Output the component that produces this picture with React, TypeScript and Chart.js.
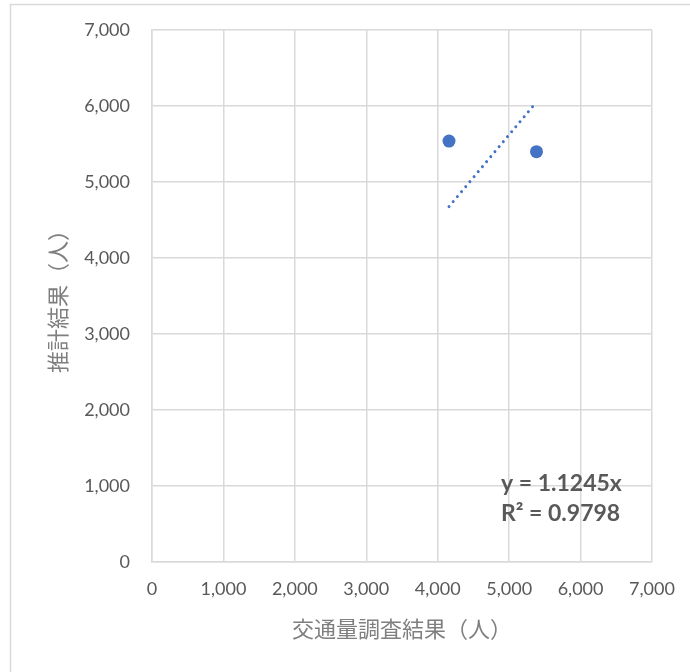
import React, { useEffect, useRef } from "react";
import { Chart, registerables } from "chart.js";

Chart.register(...registerables);

const observedX = [4158, 5383];
const estimatedY = [5539, 5399];
const slope = 1.1245;
const rSquared = "0.9798";
const axisTicks = [0, 1000, 2000, 3000, 4000, 5000, 6000, 7000];
const xTitle = "交通量調査結果（人）";
const yTitle = "推計結果（人）";

const trendX = [observedX[0], observedX[1]];
const trendY = trendX.map((x) => x * slope);

const latin = "Lato, 'Noto Sans', sans-serif";
const cjk = "'Noto Sans CJK JP', 'Noto Sans', sans-serif";

export default function App() {
  const ref = useRef<HTMLCanvasElement>(null);
  useEffect(() => {
    if (!ref.current) return;
    const frame = {
      id: "frame",
      beforeDraw(chart: any) {
        const c = chart.ctx;
        c.save();
        c.fillStyle = "#ffffff";
        c.fillRect(0, 0, chart.width, chart.height);
        c.strokeStyle = "#d9d9d9";
        c.lineWidth = 1.5;
        c.strokeRect(10.5, 4.5, 720, 720);
        c.restore();
      },
    };
    const trendLabel = {
      id: "trendLabel",
      afterDatasetsDraw(chart: any) {
        const c = chart.ctx;
        const xs = chart.scales.x;
        const ys = chart.scales.y;
        const x0 = xs.getPixelForValue(4886);
        const y0 = ys.getPixelForValue(934);
        c.save();
        c.fillStyle = "#595959";
        c.font = "bold 23px " + latin;
        c.textBaseline = "alphabetic";
        c.textAlign = "left";
        c.fillText("y = " + slope + "x", x0, y0);
        c.fillText("R² = " + rSquared, x0, y0 + 30);
        c.restore();
      },
    };
    const chart = new Chart(ref.current, {
      type: "scatter",
      data: {
        datasets: [
          {
            label: "points",
            data: observedX.map((x, i) => ({ x, y: estimatedY[i] })),
            backgroundColor: "#4472c4",
            borderColor: "#4472c4",
            pointRadius: 6.5,
            pointBorderWidth: 0,
          },
          {
            label: "trend",
            type: "line",
            data: trendX.map((x, i) => ({ x, y: trendY[i] })),
            borderColor: "#4472c4",
            borderWidth: 3,
            borderDash: [0.01, 6.5],
            borderCapStyle: "round",
            pointRadius: 0,
            fill: false,
          } as any,
        ],
      },
      options: {
        animation: false,
        responsive: false,
        maintainAspectRatio: false,
        layout: { autoPadding: false, padding: { left: 0, right: 38, top: 30, bottom: 0 } },
        plugins: { legend: { display: false }, tooltip: { enabled: false } },
        scales: {
          x: {
            type: "linear",
            min: 0,
            max: 7000,
            afterBuildTicks: (s: any) => {
              s.ticks = axisTicks.map((v) => ({ value: v }));
            },
            afterFit: (s: any) => {
              s.height = 110;
              s.paddingLeft = 0;
              s.paddingRight = 0;
            },
            grid: { color: "#d9d9d9", lineWidth: 1.5, drawTicks: false },
            border: { color: "#d9d9d9", width: 1.5 },
            ticks: {
              color: "#595959",
              font: { family: latin, size: 18 },
              padding: 16,
              maxRotation: 0,
              callback: (v: any) => Number(v).toLocaleString("en-US"),
            },
            title: {
              display: true,
              text: xTitle,
              color: "#7f7f7f",
              font: { family: cjk, size: 22 },
              padding: { top: 0, bottom: 30 },
            },
          },
          y: {
            type: "linear",
            min: 0,
            max: 7000,
            afterBuildTicks: (s: any) => {
              s.ticks = axisTicks.map((v) => ({ value: v }));
            },
            afterFit: (s: any) => {
              s.width = 152;
              s.paddingTop = 0;
              s.paddingBottom = 0;
            },
            grid: { color: "#d9d9d9", lineWidth: 1.5, drawTicks: false },
            border: { color: "#d9d9d9", width: 1.5 },
            ticks: {
              color: "#595959",
              font: { family: latin, size: 18 },
              padding: 22,
              callback: (v: any) => Number(v).toLocaleString("en-US"),
            },
            title: {
              display: true,
              text: yTitle,
              color: "#7f7f7f",
              font: { family: cjk, size: 22 },
              padding: { top: 44, bottom: 0 },
            },
          },
        },
      },
      plugins: [frame, trendLabel],
    } as any);
    return () => chart.destroy();
  }, []);
  return (
    <div style={{ position: "fixed", left: 0, top: 0, width: 690, height: 672 }}>
      <canvas ref={ref} width={690} height={672} style={{ display: "block" }} />
    </div>
  );
}
